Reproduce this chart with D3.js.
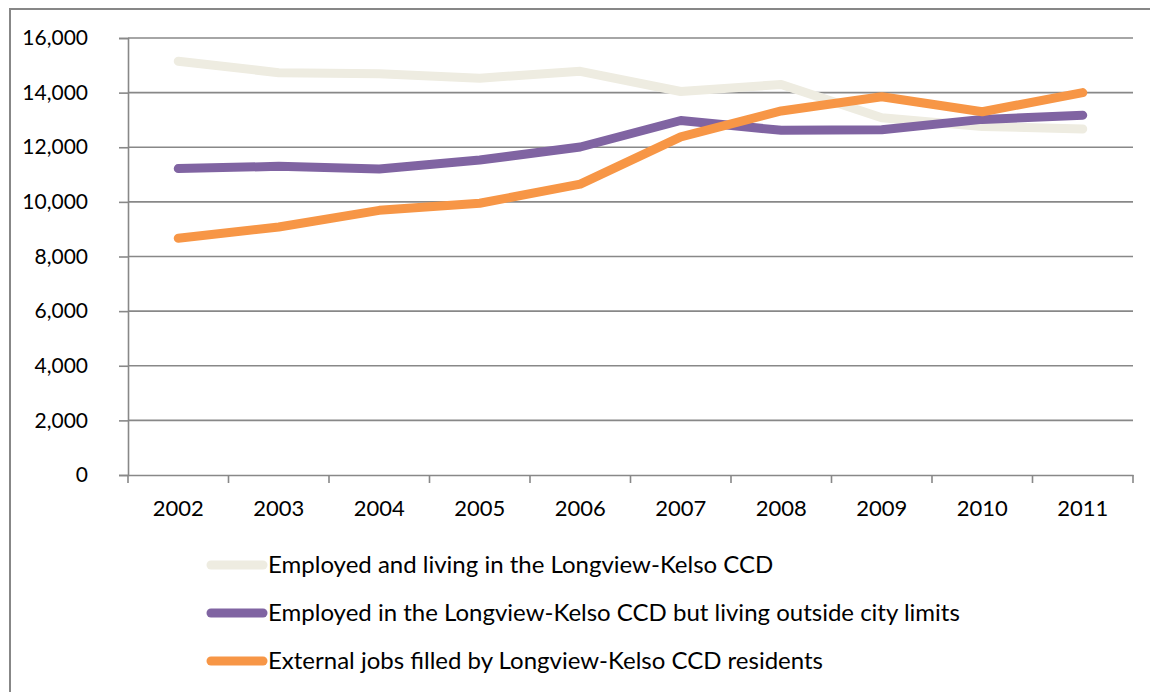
<!DOCTYPE html>
<html>
<head>
<meta charset="utf-8">
<script src="https://cdn.jsdelivr.net/npm/d3@7"></script>
<style>
  body { margin: 0; background: #fff; }
  text { font-family: Lato, "Open Sans", sans-serif; fill: #000; }
</style>
</head>
<body>
<div id="container"></div>
<script>
// data
let years = ["2002", "2003", "2004", "2005", "2006", "2007", "2008", "2009", "2010", "2011"];
let livingInside = [15150, 14730, 14690, 14530, 14780, 14040, 14300, 13080, 12760, 12670];
let livingOutside = [11220, 11300, 11200, 11530, 12010, 12980, 12620, 12640, 13020, 13170];
let externalJobs = [8670, 9080, 9690, 9950, 10650, 12380, 13330, 13850, 13300, 14000];
let yTicks = [0, 2000, 4000, 6000, 8000, 10000, 12000, 14000, 16000];

let seriesNames = [
  "Employed and living in the Longview-Kelso CCD",
  "Employed in the Longview-Kelso CCD but living outside city limits",
  "External jobs filled by Longview-Kelso CCD residents"
];
let seriesColors = ["#eeece1", "#8064a2", "#f79646"];
let seriesValues = [livingInside, livingOutside, externalJobs];

let W = 1150, H = 692;
let plotLeft = 128, plotRight = 1133, plotTop = 38, plotBottom = 475;

let viz = d3.select("#container")
  .append("svg")
    .attr("width", W)
    .attr("height", H)
  ;

// outer chart frame (runs off the right and bottom edges)
viz.append("rect")
    .attr("x", 10)
    .attr("y", 9)
    .attr("width", W + 20)
    .attr("height", H + 20)
    .attr("fill", "none")
    .attr("stroke", "#878787")
    .attr("stroke-width", 2)
  ;

let x = d3.scaleBand().domain(years).range([plotLeft, plotRight]);
let y = d3.scaleLinear().domain([0, 16000]).range([plotBottom, plotTop]);

// gridlines
viz.append("g")
  .selectAll("line")
  .data(yTicks.filter(d => d > 0))
  .enter()
  .append("line")
    .attr("x1", plotLeft)
    .attr("x2", plotRight)
    .attr("y1", d => y(d))
    .attr("y2", d => y(d))
    .attr("stroke", "#888")
    .attr("stroke-width", 1.6)
  ;

// y axis
let yAxis = viz.append("g")
    .attr("transform", "translate(" + plotLeft + ",0)")
    .call(d3.axisLeft(y).tickValues(yTicks).tickSize(9).tickPadding(31)
      .tickFormat(d3.format(",")))
  ;

// x axis
let xAxis = viz.append("g")
    .attr("transform", "translate(0," + plotBottom + ")")
    .call(d3.axisBottom(x).tickSize(0).tickPadding(21))
  ;
xAxis.selectAll(".boundary")
  .data(d3.range(years.length + 1))
  .enter()
  .append("line")
    .attr("class", "boundary")
    .attr("x1", i => plotLeft + i * x.step())
    .attr("x2", i => plotLeft + i * x.step())
    .attr("y1", 0)
    .attr("y2", 8)
  ;

[yAxis, xAxis].forEach(function(ax){
  ax.select(".domain").attr("stroke", "#888").attr("stroke-width", 1.6);
  ax.selectAll("line").attr("stroke", "#888").attr("stroke-width", 1.6);
  ax.selectAll("text")
    .style("font-family", "Lato, 'Open Sans', sans-serif")
    .style("font-size", "21px")
    .attr("fill", "#000");
});
xAxis.selectAll(".tick text").attr("dy", "0.9em").style("font-size", "22px");

// lines
let lineGen = d3.line()
  .x((d, i) => x(years[i]) + x.bandwidth() / 2)
  .y(d => y(d));

viz.append("g")
  .selectAll("path")
  .data(seriesValues)
  .enter()
  .append("path")
    .attr("d", lineGen)
    .attr("fill", "none")
    .attr("stroke", (d, i) => seriesColors[i])
    .attr("stroke-width", 9)
    .attr("stroke-linecap", "round")
    .attr("stroke-linejoin", "round")
  ;

// legend
let legend = viz.selectAll(".legend")
  .data(seriesNames)
  .enter()
  .append("g")
    .attr("class", "legend")
    .attr("transform", (d, i) => "translate(211," + (565 + i * 48) + ")")
  ;

legend.append("line")
    .attr("x1", 0)
    .attr("x2", 52)
    .attr("y1", 0)
    .attr("y2", 0)
    .attr("stroke", (d, i) => seriesColors[i])
    .attr("stroke-width", 9)
    .attr("stroke-linecap", "round")
  ;

legend.append("text")
    .attr("x", 57)
    .attr("y", 0)
    .attr("dy", "0.35em")
    .style("font-size", "24px")
    .text(d => d)
  ;
</script>
</body>
</html>
